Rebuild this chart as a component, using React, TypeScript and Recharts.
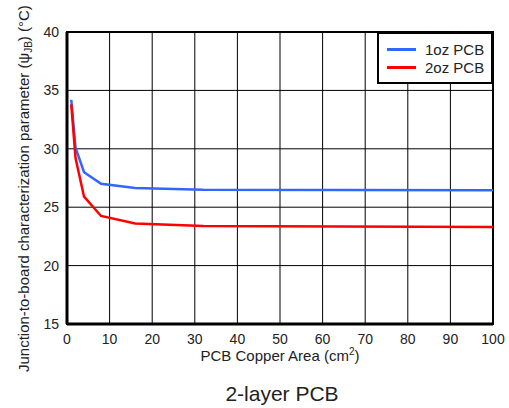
import React from 'react';
import { LineChart, Line, XAxis, YAxis, CartesianGrid, ReferenceArea, Legend } from 'recharts';

const areas = [1, 2, 4, 8, 16, 32, 64, 100];
const oz1 = [34.2, 30.1, 28.0, 27.0, 26.65, 26.5, 26.47, 26.45];
const oz2 = [33.8, 29.2, 25.9, 24.25, 23.6, 23.4, 23.35, 23.3];
const xTicks = [0, 10, 20, 30, 40, 50, 60, 70, 80, 90, 100];
const yTicks = [15, 20, 25, 30, 35, 40];
const seriesNames = ['1oz PCB', '2oz PCB'];
const seriesColors = ['#3366ff', '#ff0000'];

const data = areas.map((a, i) => ({ area: a, oz1: oz1[i], oz2: oz2[i] }));

const FONT = '"Liberation Sans", Arial, Helvetica, sans-serif';

const YLabel = (props: any) => {
  const vb = props.viewBox || { x: 0, y: 0, width: 0, height: 0 };
  const x = vb.x + 29;
  const y = vb.y + vb.height + 48;
  return (
    <text
      x={x}
      y={y}
      transform={`rotate(-90 ${x} ${y})`}
      textAnchor="start"
      fontFamily={FONT}
      fontSize={15}
      fill="#222"
    >
      Junction-to-board characterization parameter (ψ
      <tspan fontSize={10} dy={3}>JB</tspan>
      <tspan dy={-3}>) (°C)</tspan>
    </text>
  );
};

const XLabel = (props: any) => {
  const vb = props.viewBox || { x: 0, y: 0, width: 0, height: 0 };
  const cx = vb.x + vb.width / 2;
  return (
    <g fontFamily={FONT} fill="#222">
      <text x={cx} y={vb.y + 37} textAnchor="middle" fontSize={15}>
        PCB Copper Area (cm
        <tspan fontSize={10} dy={-6}>2</tspan>
        <tspan dy={6}>)</tspan>
      </text>
      <text x={cx + 2} y={vb.y + 77} textAnchor="middle" fontSize={21}>
        2-layer PCB
      </text>
    </g>
  );
};

const LegendBox = () => (
  <div
    style={{
      border: '2px solid #000',
      background: '#fff',
      padding: '6px 4px 6px 8px',
      fontFamily: FONT,
      fontSize: 15,
      color: '#222',
      boxSizing: 'border-box',
      width: 116,
    }}
  >
    {seriesNames.map((n, i) => (
      <div key={n} style={{ display: 'flex', alignItems: 'center', height: 18 }}>
        <span style={{ display: 'inline-block', width: 29, height: 3, background: seriesColors[i], marginRight: 9 }} />
        <span>{n}</span>
      </div>
    ))}
  </div>
);

export default function App() {
  return (
    <div style={{ position: 'absolute', left: 0, top: 0, width: 509, height: 408, background: '#fff' }}>
      <LineChart width={509} height={408} data={data} margin={{ top: 32, right: 16, left: 0, bottom: 0 }}>
        <CartesianGrid stroke="#000" strokeWidth={1} />
        <XAxis
          dataKey="area"
          type="number"
          domain={[0, 100]}
          ticks={xTicks}
          interval={0}
          height={84}
          tickLine={false}
          tickMargin={4}
          axisLine={{ stroke: '#000', strokeWidth: 3 }}
          tick={{ fill: '#222', fontSize: 14, fontFamily: FONT }}
          label={{ content: XLabel }}
        />
        <YAxis
          type="number"
          domain={[15, 40]}
          ticks={yTicks}
          interval={0}
          width={67}
          tickLine={false}
          axisLine={{ stroke: '#000', strokeWidth: 3 }}
          tick={{ fill: '#222', fontSize: 14, fontFamily: FONT }}
          label={{ content: YLabel }}
        />
        <ReferenceArea x1={0} x2={100} y1={15} y2={40} fill="none" stroke="#000" strokeWidth={2} ifOverflow="visible" />
        <Line type="linear" dataKey="oz1" name={seriesNames[0]} stroke={seriesColors[0]} strokeWidth={2.5} dot={false} isAnimationActive={false} />
        <Line type="linear" dataKey="oz2" name={seriesNames[1]} stroke={seriesColors[1]} strokeWidth={2.5} dot={false} isAnimationActive={false} />
        <Legend
          layout="vertical"
          align="center"
          verticalAlign="middle"
          content={LegendBox}
          wrapperStyle={{ position: 'absolute', top: 32, left: 377, width: 116 }}
        />
      </LineChart>
    </div>
  );
}
